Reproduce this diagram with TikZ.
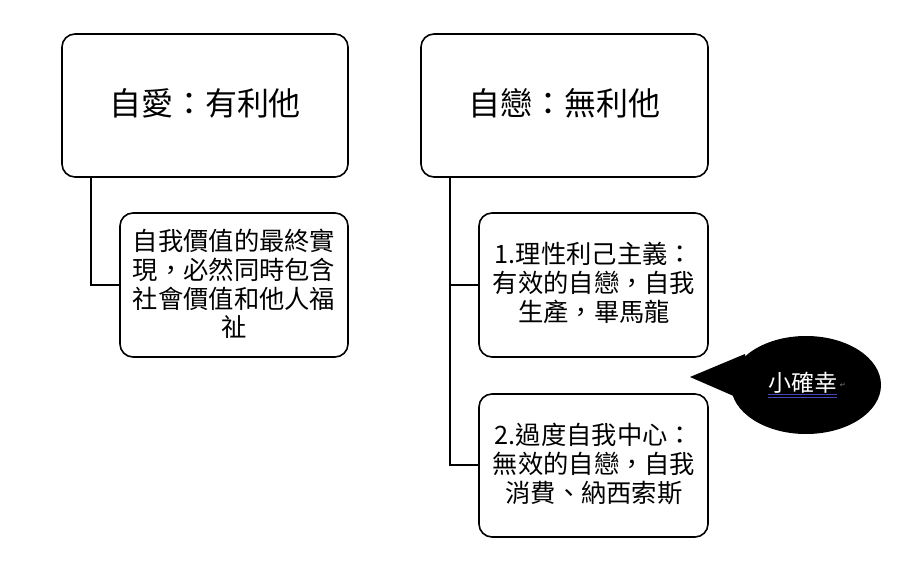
\documentclass[tikz,border=0pt]{standalone}
\usepackage{fontspec}
\setmainfont{Noto Sans CJK TC}
\newfontfamily\symfont{DejaVu Sans}
\usetikzlibrary{shapes.geometric}
\begin{document}
\begin{tikzpicture}[x=1pt,y=-1pt,
  box/.style={draw=black,line width=1.6pt,rounded corners=13pt,inner sep=0pt},
  conn/.style={draw=black,line width=1.6pt},
  txt/.style={align=center,font=\fontsize{25.3}{28.8}\selectfont},
  ttl/.style={font=\fontsize{32}{36}\selectfont}]
\useasboundingbox (0,0) rectangle (903,567);
% main boxes
\draw[box] (62,34) rectangle (348,177);
\node[ttl] (ta) at (205,103) {自愛：有利他};
\draw[box] (421,34) rectangle (708,177);
\node[ttl] (tb) at (564,103) {自戀：無利他};
% children
\draw[box] (120,213) rectangle (348,357);
\node[txt] (ca) at (234,284) {自我價值的最終實\\現，必然同時包含\\社會價值和他人福\\祉};
\draw[box] (479,213) rectangle (708,357);
\node[txt] (cb1) at (594,283) {1.理性利己主義：\\有效的自戀，自我\\生產，畢馬龍};
\draw[box] (479,394) rectangle (708,537);
\node[txt] (cb2) at (594,464) {2.過度自我中心：\\無效的自戀，自我\\消費、納西索斯};
% connectors
\coordinate (a0) at (91,177);
\coordinate (a1) at (91,285);
\coordinate (a2) at (120,285);
\draw[conn] (a0) -- (a1) -- (a2);
\coordinate (b0) at (450,177);
\coordinate (b1) at (450,285);
\coordinate (b2) at (479,285);
\coordinate (b3) at (450,465);
\coordinate (b4) at (479,465);
\draw[conn] (b0) -- (b3) -- (b4);
\draw[conn] (b1) -- (b2);
% callout
\coordinate (tip) at (690,377);
\fill[black] (806,385) ellipse [x radius=75, y radius=49];
\fill[black] (tip) -- (745,354) -- (752,404) -- cycle;
\node[text=white,font=\fontsize{23}{25}\selectfont,inner sep=0pt] (cl) at (803,383) {小確幸};
\draw[color=blue!45!gray,line width=0.7pt] ([yshift=-1pt]cl.south west) -- ++(69,0);
\draw[color=blue!45!gray,line width=0.7pt] ([yshift=-3.5pt]cl.south west) -- ++(69,0);
\node[text=gray,font=\symfont\fontsize{7}{8}\selectfont,inner sep=0pt,anchor=west] (pm) at ([xshift=2pt,yshift=-2pt]cl.east) {↵};
\end{tikzpicture}
\end{document}
